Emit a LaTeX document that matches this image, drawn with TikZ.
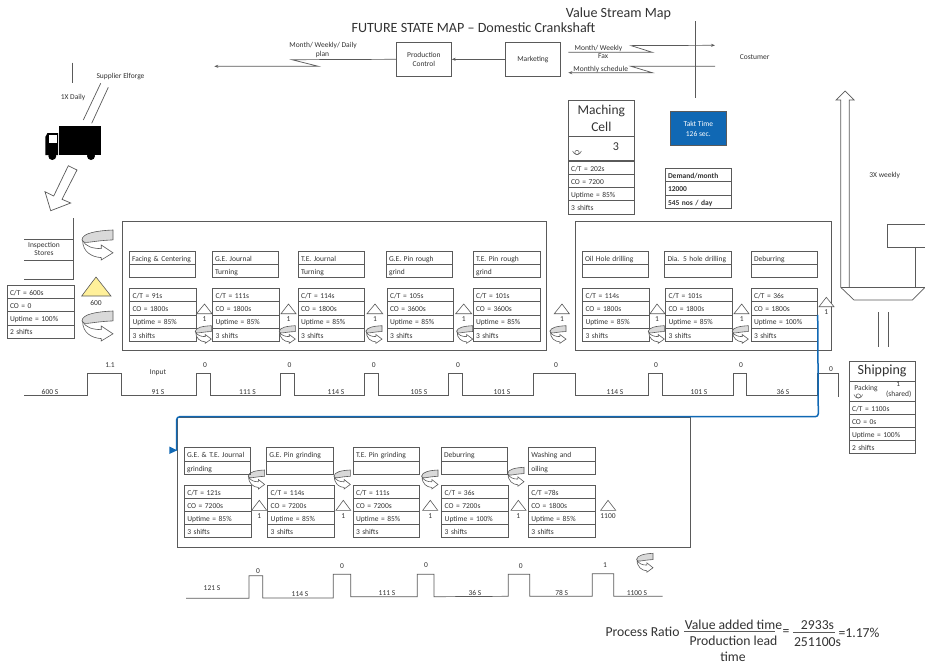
\documentclass[tikz,border=0pt]{standalone}
\usepackage{fontspec}
\setmainfont{Carlito}
\usetikzlibrary{arrows.meta}
\definecolor{ln}{HTML}{5A5A5A}
\definecolor{tx}{HTML}{333333}
\definecolor{bluefl}{HTML}{1068B4}
\definecolor{pullgray}{HTML}{D9D9D9}
\definecolor{inv}{HTML}{FFF09A}
\tikzset{
  x=1pt,y=-1pt,
  lab/.style={font=\fontsize{7.5}{8}\selectfont,text=tx,inner sep=0pt,align=center},
  frame/.style={draw=ln,line width=0.8pt},
  line/.style={draw=ln,line width=0.7pt},
  arrowed/.style={draw=ln,line width=0.7pt,-{Stealth[length=4pt,width=3pt]}},
  cellbox/.style={draw=ln,line width=0.8pt,anchor=north west,inner ysep=0pt,inner xsep=3pt,outer sep=0pt,
     align=left,font=\fontsize{7.5}{8}\selectfont,text=tx,text height=6.8pt,text depth=0pt},
  plainbox/.style={draw=ln,line width=0.8pt,inner sep=0pt,outer sep=0pt,align=center,font=\fontsize{7.5}{9.4}\selectfont,text=tx},
  tri/.style={draw=ln,line width=0.6pt,fill=white},
}
% one row of a table: id x1 y x2 h text
\newcommand\cellrow[6]{%
  \pgfmathsetmacro\cw{#4-#2-6}%
  \node[cellbox,text width=\cw pt,minimum height=#5pt] (#1) at (#2,#3) {#6};}
\newcommand\databox[9]{% id x1 y x2 row t1 t2 t3 t4
  \pgfmathsetmacro\yb{#3+#5}\pgfmathsetmacro\yc{#3+2*#5}\pgfmathsetmacro\yd{#3+3*#5}%
  \cellrow{#1a}{#2}{#3}{#4}{#5}{#6}%
  \cellrow{#1b}{#2}{\yb}{#4}{#5}{#7}%
  \cellrow{#1c}{#2}{\yc}{#4}{#5}{#8}%
  \cellrow{#1d}{#2}{\yd}{#4}{#5}{#9}}
\newcommand\procbox[6]{% id x1 y x2 t1 t2
  \pgfmathsetmacro\yb{#3+13.3}%
  \cellrow{#1a}{#2}{#3}{#4}{13.3}{#5}%
  \cellrow{#1b}{#2}{\yb}{#4}{13.3}{#6}}
\newcommand\pullarrow[4]{% x1 y1 width height
  \begin{scope}[shift={(#1,#2)},x=#3pt,y=-#4pt,line width=0.6pt]
    \draw[ln,fill=white] (0.02,0.34) .. controls (0.02,0.72) and (0.3,0.9) .. (0.62,0.92)
      -- (0.62,1) -- (1,0.76) -- (0.62,0.5) -- (0.62,0.62) .. controls (0.35,0.62) and (0.1,0.55) .. (0.02,0.34) -- cycle;
    \draw[ln,fill=pullgray] (1,0) .. controls (0.5,0.02) and (0,0.1) .. (0,0.33)
      .. controls (0.05,0.5) and (0.25,0.36) .. (1,0.33) -- cycle;
  \end{scope}}
\newcommand\operatorsym[2]{%
  \draw[ln,line width=0.5pt] (#1,#2) circle[radius=2.2];
  \draw[ln,line width=0.5pt] (#1-4.4,#2-1.5) .. controls (#1-3.5,#2+3) and (#1+3.5,#2+3) .. (#1+4.4,#2-1.5);}
\begin{document}
\begin{tikzpicture}
\useasboundingbox (0,0) rectangle (925,665);
\fill[white] (0,0) rectangle (925,665);

% titles
\node[font=\fontsize{14.1}{16}\selectfont,text=tx,inner sep=0pt] (titleB) at (618.5,14) {Value Stream Map};
\node[font=\fontsize{14.1}{16}\selectfont,text=tx,inner sep=0pt] (titleA) at (473.5,28) {FUTURE STATE MAP – Domestic Crankshaft};

% frames
\draw[frame] (122,221) rectangle (546.7,350.7);
\draw[frame] (575,221) rectangle (831,350.7);
\draw[frame] (177.3,417) rectangle (690.7,547.3);

% control boxes
\node[plainbox,minimum width=55.7pt,minimum height=34pt] (pc) at (423.85,59.3) {Production\\Control};
\node[plainbox,minimum width=55.7pt,minimum height=34pt] (mk) at (532.85,59.3) {Marketing};
\draw[arrowed] (mk.west) -- (pc.east);
\coordinate (planEnd) at (214.3,66.3);
\draw[arrowed] (pc.west) -- (292,59.7) -- (318.3,66.3) -- (planEnd);
\coordinate (custA) at (715,45.3);
\coordinate (custB) at (715,66.3);
\coordinate (mkA) at (568.3,52.3);
\coordinate (mkB) at (568.3,72.7);
\draw[arrowed] (mkA) -- (652.3,52.3) -- (631,45.6) -- (custA);
\draw[arrowed] (custB) -- (631,66.3) -- (652.3,72.7) -- (mkB);
\draw[line] (695.3,21) -- (695.3,98);

% machining cell
\node[plainbox,minimum width=66.7pt,minimum height=36.7pt,font=\fontsize{13.5}{17}\selectfont] (mcT) at (601.35,118.35) {Maching\\Cell};
\node[plainbox,minimum width=66.7pt,minimum height=23.3pt] (mcO) at (601.35,148.35) {};
\node[lab,font=\fontsize{12}{13}\selectfont] (mcN) at (616,147) {3};
\operatorsym{577}{152.5}
\databox{mc}{568}{161}{634.7}{13.25}{C/T = 202s}{CO = 7200}{Uptime = 85\%}{3 shifts}

% takt
\node[draw=ln,fill=bluefl,line width=0.6pt,minimum width=55.3pt,minimum height=34pt,inner sep=0pt,align=center,
  font=\fontsize{7.5}{10}\selectfont,text=white] (takt) at (698.35,128.7) {Takt Time\\126 sec.};

% demand
\cellrow{dmA}{665}{168.3}{731.7}{13.4}{\textbf{Demand/month}}
\cellrow{dmB}{665}{181.7}{731.7}{13.3}{\textbf{12000}}
\cellrow{dmC}{665}{195}{731.7}{13.3}{\textbf{545 nos / day}}

% supplier
\draw[line] (72.7,62.7) -- (72.7,83.3);
\draw[line] (100.7,83.3) -- (83.3,120);
\draw[line] (108.3,87.3) -- (91.7,123.3);

% truck
\fill[black] (59,126) rectangle (101,155);
\fill[black] (45.3,155) -- (45.3,137) -- (47.5,133) -- (58,133) -- (58,155) -- cycle;
\fill[white] (49,135.3) rectangle (56.7,143.3);
\fill[black] (52.3,156) circle[radius=4];
\fill[black] (91,156) circle[radius=4];

% big delivery arrow
\draw[ln,line width=0.7pt,fill=white] (68.3,165.7) -- (77,170) -- (62,199.3) -- (70.7,203) -- (50.7,210.7) -- (45,191.7) -- (53.7,196) -- cycle;

% inspection stores
\draw[line] (73.7,218) -- (73.7,279.7);
\draw[line] (24,239) -- (73.7,239);
\draw[line] (24,260.3) -- (73.7,260.3);
\draw[line] (24,279.7) -- (73.7,279.7);
\databox{is}{7}{285}{74}{13.3}{C/T = 600s}{CO = 0}{Uptime = 100\%}{2 shifts}
\draw[ln,line width=0.6pt,fill=inv] (96,277) -- (111,296) -- (81.7,296) -- cycle;

% first row process and data boxes
\procbox{pA}{129}{251}{195}{Facing \& Centering}{}
\procbox{pB}{212}{251}{278}{G.E. Journal}{Turning}
\procbox{pC}{298}{251}{364.5}{T.E. Journal}{Turning}
\procbox{pD}{386}{251}{452}{G.E. Pin rough}{grind}
\procbox{pE}{473}{251}{540}{T.E. Pin rough}{grind}
\procbox{pF}{582}{251}{648.5}{Oil Hole drilling}{}
\procbox{pG}{664.5}{251}{731}{Dia. 5 hole drilling}{}
\procbox{pH}{751}{251}{817.7}{Deburring}{}
\databox{dA}{129.5}{288.5}{196}{13.2}{C/T = 91s}{CO = 1800s}{Uptime = 85\%}{3 shifts}
\databox{dB}{212.5}{288.5}{279}{13.2}{C/T = 111s}{CO = 1800s}{Uptime = 85\%}{3 shifts}
\databox{dC}{298}{288.5}{364.5}{13.2}{C/T = 114s}{CO = 1800s}{Uptime = 85\%}{3 shifts}
\databox{dD}{387}{288.5}{453.5}{13.2}{C/T = 105s}{CO = 3600s}{Uptime = 85\%}{3 shifts}
\databox{dE}{473}{288.5}{540}{13.2}{C/T = 101s}{CO = 3600s}{Uptime = 85\%}{3 shifts}
\databox{dF}{582.5}{288.5}{649.5}{13.2}{C/T = 114s}{CO = 1800s}{Uptime = 85\%}{3 shifts}
\databox{dG}{665.5}{288.5}{732}{13.2}{C/T = 101s}{CO = 1800s}{Uptime = 85\%}{3 shifts}
\databox{dH}{751}{288.5}{817.7}{13.2}{C/T = 36s}{CO = 1800s}{Uptime = 100\%}{3 shifts}

% first row inventory triangles
\foreach \a/\b/\c in {196.5/204.5/212,281/288.5/296,367/375/382.7,455.7/463.7/471.7,554.3/562/569.3,650/657/665,734/741.7/749}
  {\draw[tri] (\a,313.7) -- (\b,304) -- (\c,313.7) -- cycle;}
\draw[tri] (819,306.7) -- (826.3,297.3) -- (834,306.7) -- cycle;
\foreach \x/\y [count=\i] in {204.5/319,288.5/319,375/319,463.7/319,562/319,657/319,741.7/319,826.3/312.5}
  {\node[lab] (invA\i) at (\x,\y) {1};}

% pull arrows
\pullarrow{82}{230}{31}{30}
\pullarrow{82}{311}{31}{30}
\foreach \x in {195.3,279.3,366,456.7,550,648.3,732.3}
  {\pullarrow{\x}{325.7}{16}{17.6}}
\foreach \x/\y in {248.3/470,334/470,421.7/470,507.7/467.3,636.7/553.3}
  {\pullarrow{\x}{\y}{16.3}{19}}

% first timeline
\draw[line] (24,395.7) -- (87.3,395.7) -- (87.3,373.3) -- (121,373.3) -- (121,395.7) -- (196.7,395.7) -- (196.7,373.3) -- (210,373.3) -- (210,395.7)
 -- (280,395.7) -- (280,373.3) -- (294,373.3) -- (294,395.7) -- (364.7,395.7) -- (364.7,373.3) -- (378.3,373.3) -- (378.3,395.7)
 -- (448.7,395.7) -- (448.7,373.3) -- (462.7,373.3) -- (462.7,395.7) -- (533,395.7) -- (533,373.3) -- (575,373.3) -- (575,395.7)
 -- (648.7,395.7) -- (648.7,373.3) -- (662.7,373.3) -- (662.7,395.7) -- (733,395.7) -- (733,373.3) -- (746.7,373.3) -- (746.7,395.7)
 -- (817.3,395.7) -- (817.3,373.3) -- (838.3,373.3) -- (838.3,396.7);
\foreach \t/\x/\y [count=\i] in {600 S/50/392,1.1/110/365,Input/158/373,91 S/158/392,0/205/365,111 S/247.5/392,0/289.5/365,114 S/336/392,0/373.7/365,105 S/419/392,0/458/365,101 S/502/392,0/556/365,114 S/615/392,0/656/365,101 S/699/392,0/741/365,36 S/783/392,0/831/369}
  {\node[lab] (tlA\i) at (\x,\y) {\t};}

% blue flow line
\coordinate (blueEnd) at (176.7,450);
\draw[bluefl,line width=1.5pt,rounded corners=3pt] (dHc.north east) -- (818.3,416.7) -- (176.7,416.7) -- (blueEnd);
\fill[bluefl] (169.3,446.5) -- (177.2,450.3) -- (169.3,454) -- cycle;

% second row
\procbox{qA}{184}{447.7}{250}{G.E. \& T.E. Journal}{grinding}
\procbox{qB}{266.3}{447.7}{333}{G.E. Pin grinding}{}
\procbox{qC}{353}{447.7}{419.7}{T.E. Pin grinding}{}
\procbox{qD}{441}{447.7}{507.3}{Deburring}{}
\procbox{qE}{528.3}{447.7}{595}{Washing and}{oiling}
\databox{eA}{184.3}{485.3}{251.3}{13.1}{C/T = 121s}{CO = 7200s}{Uptime = 85\%}{3 shifts}
\databox{eB}{267.7}{485.3}{334}{13.1}{C/T = 114s}{CO = 7200s}{Uptime = 85\%}{3 shifts}
\databox{eC}{353}{485.3}{419.7}{13.1}{C/T = 111s}{CO = 7200s}{Uptime = 85\%}{3 shifts}
\databox{eD}{441.7}{485.3}{508.3}{13.1}{C/T = 36s}{CO = 7200s}{Uptime = 100\%}{3 shifts}
\databox{eE}{528.3}{485.3}{595}{13.1}{C/T =78s}{CO = 1800s}{Uptime = 85\%}{3 shifts}
\foreach \a/\b/\c/\t [count=\i] in {251.7/259.3/266.7/1,336/343.3/350.7/1,422.7/430.3/437.7/1,511/518.3/526/1,600.7/608/615.7/1100}{
  \draw[tri] (\a,510.3) -- (\b,500.3) -- (\c,510.3) -- cycle;
  \node[lab] (invB\i) at (\b,516) {\t};
}

% second timeline
\draw[line] (186,598.3) -- (249,598.3) -- (249,575.7) -- (262.7,575.7) -- (262.7,598) -- (333.3,598) -- (333.3,574.3) -- (350.7,574.3) -- (350.7,596.7)
 -- (417.3,596.7) -- (417.3,574.3) -- (434,574.3) -- (434,596.7) -- (508.3,596.3) -- (508.3,574.3) -- (529.7,574.3) -- (529.7,596.3)
 -- (592.3,596.3) -- (592.3,573.7) -- (613.7,573.7) -- (613.7,596.3) -- (662.7,596.3);
\foreach \t/\x/\y [count=\i] in {121 S/212/588,0/258/571.3,114 S/300/594,0/342/565.7,111 S/387/593,0/426/565,36 S/475/593,0/520.7/565.7,78 S/561.7/593,1/605/565.5,1100 S/637/593}
  {\node[lab] (tlB\i) at (\x,\y) {\t};}

% shipping
\node[plainbox,minimum width=66.3pt,minimum height=20pt,font=\fontsize{14}{16}\selectfont] (shT) at (882.15,371) {Shipping};
\node[plainbox,minimum width=66.3pt,minimum height=20pt] (shO) at (882.15,391) {};
\operatorsym{858.3}{396}
\databox{sh}{849}{401}{915.3}{13.2}{C/T = 1100s}{CO = 0s}{Uptime = 100\%}{2 shifts}
\draw[line] (878.7,312.3) -- (878.7,347.3);
\draw[line] (888,312.3) -- (888,347.3);

% factory / customer arrow
\draw[ln,line width=0.7pt,fill=white] (840.7,287.3) -- (840.7,100) -- (836,100) -- (845,91) -- (854,100) -- (849.3,100) -- (849.3,287.3);
\draw[line] (840.7,287.3) -- (925,287.3);
\draw[line] (840.7,287.3) -- (854,300) -- (912.3,300) -- (925,287.3);
\draw[line] (915.3,247.3) -- (915.3,287.3);
\draw[line] (925,224.3) -- (887.3,224.3) -- (887.3,247.3) -- (925,247.3);

% free labels
\node[lab] (f1) at (323,45) {Month/ Weekly/ Daily};
\node[lab] (f2) at (322.5,54.5) {plan};
\node[lab] (f3) at (598.5,48.5) {Month/ Weekly};
\node[lab] (f4) at (603,56) {Fax};
\node[lab] (f5) at (600.7,69.7) {Monthly schedule};
\node[lab] (f6) at (754.7,56.7) {Costumer};
\node[lab] (f7) at (120.5,77) {Supplier Elforge};
\node[lab] (f8) at (73,97.5) {1X Daily};
\node[lab] (f9) at (884.7,175) {3X weekly};
\node[lab] (f10) at (866,388.3) {Packing};
\node[lab] (f11) at (898.3,384.3) {1};
\node[lab] (f12) at (898.7,394) {(shared)};
\node[lab] (f13) at (44,249) {\fontsize{7.5}{9}\selectfont Inspection\\Stores};
\node[lab] (f14) at (96,302.5) {600};

% process ratio
\tikzset{big/.style={font=\fontsize{13.7}{15}\selectfont,text=tx,inner sep=0pt}}
\node[big] (r1) at (642.5,632) {Process Ratio};
\node[big] (r2) at (733.5,624.5) {Value added time};
\node[big] (r3) at (733.5,641) {Production lead};
\node[big] (r4) at (733,657) {time};
\node[big] (r5) at (786,633) {=};
\node[big] (r6) at (817.5,625) {2933s};
\node[big] (r7) at (817.5,642) {251100s};
\node[big] (r8) at (859,633) {=1.17\%};
\draw[line] (684.3,631) -- (775,631);
\draw[line] (793,632) -- (835,632);
\end{tikzpicture}
\end{document}
